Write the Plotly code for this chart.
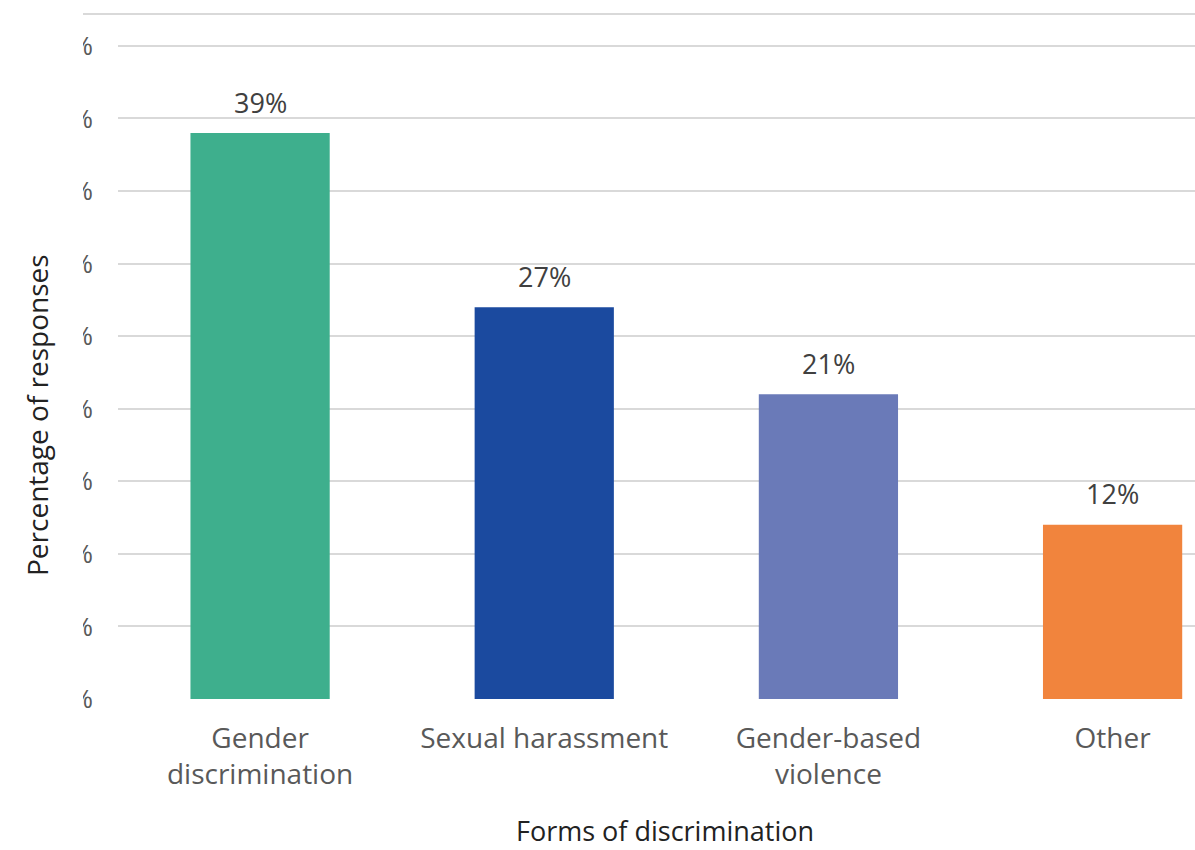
import plotly.graph_objects as go

categories = ["Gender<br>discrimination", "Sexual harassment", "Gender-based<br>violence", "Other"]
values = [39, 27, 21, 12]
labels = ["39%", "27%", "21%", "12%"]
colors = ["#3EAF8D", "#1B4A9F", "#6A7AB8", "#F1843D"]
ytick_vals = [0, 5, 10, 15, 20, 25, 30, 35, 40, 45]
ytick_text = [f"{v}%" for v in ytick_vals]

fig = go.Figure()
fig.add_trace(go.Bar(
    x=list(range(len(categories))), y=values,
    marker=dict(color=colors, line=dict(width=0)),
    width=0.49, hoverinfo="skip",
))

for i, (v, t) in enumerate(zip(values, labels)):
    fig.add_annotation(x=i, y=v, text=t, showarrow=False, yanchor="middle",
                       yshift=31, font=dict(family="Open Sans", size=27, color="#404040"))

fig.update_layout(
    width=1195, height=850,
    margin=dict(l=118, r=0, t=14, b=151),
    paper_bgcolor="white", plot_bgcolor="white",
    showlegend=False,
    bargap=0.51,
    xaxis=dict(
        tickmode="array", tickvals=list(range(len(categories))), ticktext=categories,
        range=[-0.5, 3.29], showgrid=False, zeroline=False, showline=False,
        tickfont=dict(family="Open Sans", size=28, color="#595959"),
        ticks="", ticklabelstandoff=20,
    ),
    yaxis=dict(
        range=[0, 47.2], tickmode="array", tickvals=ytick_vals, ticktext=ytick_text,
        showgrid=True, gridcolor="#D9D9D9", gridwidth=2, zeroline=False, showline=False,
        tickfont=dict(family="Open Sans", size=26, color="#595959"),
        ticks="", ticklabelstandoff=24,
    ),
)

# top border line
fig.add_shape(type="line", xref="paper", yref="paper", x0=-35/1077, x1=1, y0=1, y1=1,
              line=dict(color="#D9D9D9", width=2), layer="above")
# mask that clips the y tick labels, leaving only their right edge visible
fig.add_shape(type="rect", xref="paper", yref="paper", x0=-118/1077, x1=-35/1077,
              y0=-0.05, y1=1.02, fillcolor="white", line=dict(width=0), layer="above")

fig.add_annotation(xref="paper", yref="paper", x=-81/1077, y=(699-415)/685,
                   text="Percentage of responses", textangle=-90, showarrow=False,
                   xanchor="center", yanchor="middle",
                   font=dict(family="Open Sans", size=28, color="#222222"))
fig.add_annotation(xref="paper", yref="paper", x=(665-118)/1077, y=-(850-699)/685,
                   text="Forms of discrimination", showarrow=False, borderpad=0,
                   xanchor="center", yanchor="bottom",
                   font=dict(family="Open Sans", size=27, color="#222222"))

fig.write_html("out.html")
